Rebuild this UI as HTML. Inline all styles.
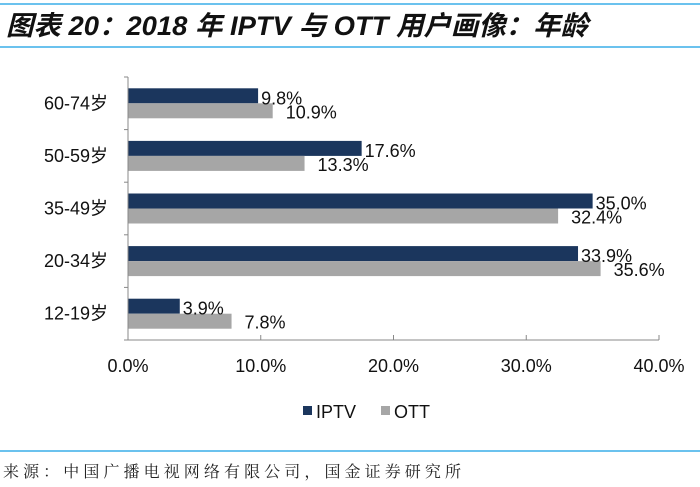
<!DOCTYPE html>
<html><head><meta charset="utf-8"><style>
body{margin:0;width:700px;height:487px;background:#fff;overflow:hidden;font-family:"Liberation Sans","Noto Sans CJK SC",sans-serif}
</style></head><body>
<svg width="700" height="487" style="position:absolute;left:0;top:0">
<line x1="0" y1="4" x2="700" y2="4" stroke="#3aaee8" stroke-width="1.5"/>
<text x="6" y="35" font-size="27" font-weight="bold" font-style="italic" fill="#111" textLength="582" lengthAdjust="spacingAndGlyphs" font-family="Liberation Sans, Noto Sans CJK SC, sans-serif">图表 20：2018 年 IPTV 与 OTT 用户画像：年龄</text>
<line x1="0" y1="47" x2="700" y2="47" stroke="#3aaee8" stroke-width="1.5"/>
<g id="plot"></g>
<rect x="303" y="406" width="9" height="9" fill="#1b365d"/>
<text x="316" y="418" font-size="18" fill="#111">IPTV</text>
<rect x="381" y="406" width="9" height="9" fill="#a6a6a6"/>
<text x="394" y="418" font-size="18" fill="#111">OTT</text>
<line x1="0" y1="451" x2="700" y2="451" stroke="#3aaee8" stroke-width="1.5"/>
<text x="3" y="477" font-size="16" fill="#222" textLength="458" lengthAdjust="spacing" font-family="Noto Serif CJK SC, serif">来源：中国广播电视网络有限公司，国金证券研究所</text>
</svg>
<script>
const categories=["60-74岁","50-59岁","35-49岁","20-34岁","12-19岁"];
const iptv=[9.8,17.6,35.0,33.9,3.9];
const ott=[10.9,13.3,32.4,35.6,7.8];
const ticks=[0,10,20,30,40];
const NS="http://www.w3.org/2000/svg";
const g=document.getElementById('plot');
const x0=128,x1=659,yT=77,yB=340,xmax=40;
const xs=v=>x0+(v/xmax)*(x1-x0);
const band=(yB-yT)/categories.length;
function mk(t,a,txt){const e=document.createElementNS(NS,t);for(const k in a)e.setAttribute(k,a[k]);if(txt!=null)e.textContent=txt;g.appendChild(e);return e;}
categories.forEach((c,i)=>{
 const cy=yT+band*(i+0.5);
 let e=mk('rect',{x:x0,y:cy-15,width:xs(iptv[i])-x0,height:15,fill:'#1b365d'});
 
 
 e=mk('rect',{x:x0,y:cy,width:xs(ott[i])-x0,height:15,fill:'#a6a6a6'});
 
 
 e=mk('text',{x:xs(iptv[i])+3,y:cy+1,'font-size':18,fill:'#111'},iptv[i].toFixed(1)+'%');
 
 
 e=mk('text',{x:xs(ott[i])+13,y:cy+15,'font-size':18,fill:'#111'},ott[i].toFixed(1)+'%');
 
 
 e=mk('text',{x:108,y:cy+6,'font-size':18,fill:'#111','text-anchor':'end'},c);
 
 
});
for(let i=0;i<=categories.length;i++){const y=yT+band*i;const e=mk('line',{x1:x0-4,y1:y,x2:x0,y2:y,stroke:'#888'});}
let ax=mk('line',{x1:x0,y1:yT,x2:x0,y2:yB,stroke:'#888'});


ax=mk('line',{x1:x0,y1:yB,x2:x1,y2:yB,stroke:'#888'});


ticks.forEach(t=>{
 let e=mk('line',{x1:xs(t),y1:yB-5,x2:xs(t),y2:yB,stroke:'#888'});
 
 
 e=mk('text',{x:xs(t),y:yB+32,'font-size':18,fill:'#111','text-anchor':'middle'},t.toFixed(1)+'%');
 
 
});
</script>
</body></html>
